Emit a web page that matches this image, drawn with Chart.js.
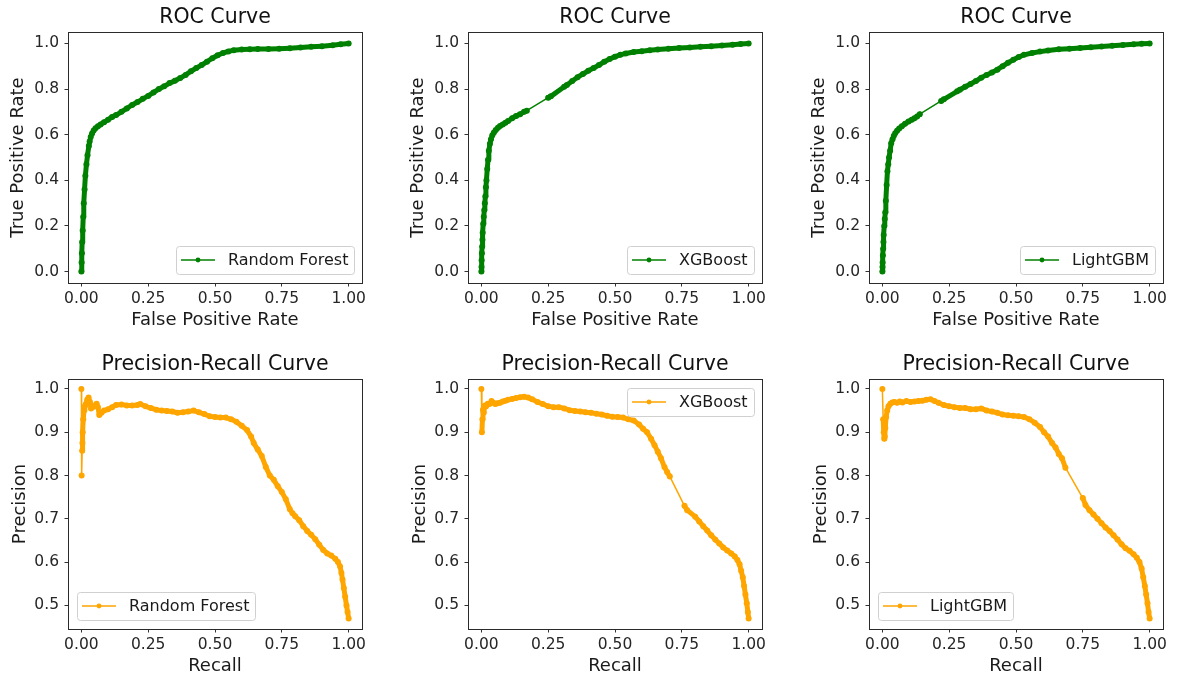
<!DOCTYPE html>
<html>
<head>
<meta charset="utf-8">
<title>ROC and Precision-Recall curves</title>
<script src="https://cdn.jsdelivr.net/npm/chart.js@4.4.1/dist/chart.umd.min.js"></script>
<style>
  html, body { margin: 0; padding: 0; background: #fff; }
  body { position: relative; width: 1179px; height: 679px; overflow: hidden; }
  canvas { position: absolute; }
</style>
</head>
<body>
<script>
const models = ["Random Forest", "XGBoost", "LightGBM"];
const xTicks = [0, 0.25, 0.5, 0.75, 1.0];
const rocYTicks = [0, 0.2, 0.4, 0.6, 0.8, 1.0];
const prYTicks = [0.5, 0.6, 0.7, 0.8, 0.9, 1.0];

// ROC - Random Forest
const rfFpr = [
  0, 0.001, 0.002, 0.003, 0.005, 0.007, 0.009, 0.012, 0.015, 0.019,
  0.023, 0.028, 0.031, 0.035, 0.04, 0.046, 0.053, 0.062, 0.072, 0.085,
  0.1, 0.115, 0.13, 0.15, 0.17, 0.19, 0.21, 0.23, 0.25, 0.27,
  0.29, 0.31, 0.33, 0.35, 0.37, 0.39, 0.41, 0.43, 0.45, 0.47,
  0.49, 0.51, 0.53, 0.55, 0.57, 0.6, 0.63, 0.66, 0.7, 0.74,
  0.78, 0.82, 0.86, 0.9, 0.94, 0.97, 1.0];
const rfTpr = [
  0, 0.04, 0.08, 0.13, 0.18, 0.24, 0.3, 0.36, 0.42, 0.47,
  0.51, 0.55, 0.57, 0.59, 0.605, 0.618, 0.628, 0.637, 0.645, 0.655,
  0.665, 0.678, 0.686, 0.7, 0.715, 0.73, 0.743, 0.757, 0.77, 0.785,
  0.8, 0.812, 0.826, 0.836, 0.848, 0.862, 0.878, 0.892, 0.905, 0.92,
  0.935, 0.948, 0.958, 0.965, 0.97, 0.973, 0.974, 0.975, 0.976, 0.977,
  0.979, 0.982, 0.985, 0.988, 0.992, 0.996, 1.0];

// ROC - XGBoost
const xgbFpr = [
  0, 0.0005, 0.001, 0.002, 0.003, 0.004, 0.005, 0.007, 0.009, 0.011,
  0.013, 0.015, 0.017, 0.019, 0.022, 0.025, 0.028, 0.032, 0.036, 0.041,
  0.047, 0.054, 0.062, 0.07, 0.08, 0.09, 0.1, 0.115, 0.13, 0.145,
  0.16, 0.17, 0.25, 0.26, 0.31, 0.32, 0.34, 0.36, 0.38, 0.4,
  0.42, 0.44, 0.46, 0.48, 0.5, 0.52, 0.54, 0.57, 0.6, 0.63,
  0.66, 0.7, 0.74, 0.78, 0.82, 0.86, 0.9, 0.94, 0.97, 1.0];
const xgbTpr = [
  0, 0.02, 0.05, 0.08, 0.11, 0.14, 0.17, 0.21, 0.24, 0.27,
  0.3, 0.33, 0.37, 0.4, 0.45, 0.49, 0.53, 0.56, 0.58, 0.597,
  0.61, 0.62, 0.63, 0.638, 0.645, 0.652, 0.66, 0.672, 0.682, 0.69,
  0.7, 0.705, 0.762, 0.768, 0.81, 0.818, 0.835, 0.852, 0.866, 0.88,
  0.892, 0.905, 0.92, 0.932, 0.942, 0.95, 0.956, 0.962, 0.966, 0.97,
  0.973, 0.977, 0.98, 0.982, 0.985, 0.988, 0.991, 0.994, 0.997, 1.0];

// ROC - LightGBM
const lgbFpr = [
  0, 0.0005, 0.001, 0.002, 0.003, 0.004, 0.005, 0.007, 0.009, 0.011,
  0.013, 0.016, 0.019, 0.022, 0.025, 0.029, 0.033, 0.038, 0.043, 0.048,
  0.055, 0.063, 0.073, 0.085, 0.098, 0.11, 0.12, 0.13, 0.14, 0.22,
  0.23, 0.28, 0.29, 0.31, 0.33, 0.35, 0.37, 0.39, 0.41, 0.43,
  0.45, 0.47, 0.49, 0.51, 0.53, 0.56, 0.59, 0.62, 0.66, 0.7,
  0.74, 0.78, 0.82, 0.86, 0.9, 0.94, 0.97, 1.0];
const lgbTpr = [
  0, 0.02, 0.04, 0.07, 0.1, 0.13, 0.16, 0.2, 0.23, 0.26,
  0.31, 0.38, 0.44, 0.47, 0.5, 0.53, 0.562, 0.58, 0.595, 0.606,
  0.617, 0.627, 0.637, 0.648, 0.658, 0.665, 0.672, 0.68, 0.69, 0.748,
  0.755, 0.79, 0.797, 0.81, 0.822, 0.835, 0.85, 0.862, 0.873, 0.885,
  0.9, 0.915, 0.928, 0.94, 0.95, 0.958, 0.964, 0.969, 0.974, 0.977,
  0.98, 0.983, 0.986, 0.99, 0.993, 0.996, 0.998, 1.0];

// Precision-Recall - Random Forest
const rfRecall = [
  0, 0.001, 0.003, 0.004, 0.005, 0.007, 0.01, 0.013, 0.017, 0.022,
  0.027, 0.032, 0.036, 0.042, 0.05, 0.057, 0.062, 0.067, 0.075, 0.085,
  0.1, 0.115, 0.13, 0.15, 0.17, 0.19, 0.21, 0.22, 0.24, 0.26,
  0.28, 0.3, 0.32, 0.34, 0.36, 0.38, 0.4, 0.42, 0.44, 0.46,
  0.48, 0.5, 0.52, 0.54, 0.56, 0.58, 0.6, 0.62, 0.635, 0.645,
  0.66, 0.675, 0.69, 0.705, 0.72, 0.735, 0.75, 0.765, 0.78, 0.79,
  0.8, 0.815, 0.83, 0.845, 0.86, 0.875, 0.89, 0.905, 0.92, 0.935,
  0.95, 0.96, 0.968, 0.973, 0.977, 0.982, 0.987, 0.992, 0.996, 1.0];
const rfPrecision = [
  1.0, 0.8, 0.857, 0.875, 0.9, 0.93, 0.95, 0.96, 0.965, 0.975,
  0.98, 0.97, 0.955, 0.958, 0.962, 0.966, 0.958, 0.94, 0.945, 0.95,
  0.953, 0.958, 0.963, 0.964, 0.962, 0.962, 0.963, 0.965, 0.96, 0.956,
  0.952, 0.95, 0.949, 0.948, 0.945, 0.946, 0.948, 0.95, 0.946, 0.942,
  0.937, 0.935, 0.934, 0.934, 0.93, 0.924, 0.915, 0.905, 0.89, 0.875,
  0.86, 0.845, 0.82, 0.8, 0.79, 0.775, 0.762, 0.745, 0.722, 0.713,
  0.706, 0.697, 0.683, 0.672, 0.663, 0.653, 0.64, 0.628, 0.62, 0.615,
  0.608, 0.6, 0.59, 0.575, 0.56, 0.54, 0.52, 0.5, 0.485, 0.47];

// Precision-Recall - XGBoost
const xgbRecall = [
  0, 0.002, 0.004, 0.006, 0.009, 0.013, 0.018, 0.024, 0.03, 0.038,
  0.045, 0.052, 0.06, 0.07, 0.08, 0.09, 0.1, 0.115, 0.13, 0.145,
  0.16, 0.175, 0.19, 0.21, 0.23, 0.25, 0.27, 0.29, 0.31, 0.33,
  0.35, 0.37, 0.39, 0.41, 0.43, 0.45, 0.47, 0.49, 0.51, 0.53,
  0.55, 0.57, 0.59, 0.605, 0.62, 0.635, 0.648, 0.66, 0.672, 0.685,
  0.695, 0.705, 0.76, 0.77, 0.8, 0.815, 0.83, 0.845, 0.86, 0.875,
  0.89, 0.905, 0.92, 0.935, 0.948, 0.958, 0.966, 0.972, 0.978, 0.983,
  0.988, 0.993, 0.997, 1.0];
const xgbPrecision = [
  1.0, 0.9, 0.93, 0.952, 0.945, 0.962, 0.96, 0.966, 0.965, 0.972,
  0.968, 0.965, 0.967, 0.968, 0.971, 0.973, 0.975, 0.977, 0.979, 0.981,
  0.982, 0.98, 0.976, 0.97, 0.965, 0.96, 0.958, 0.958, 0.955, 0.951,
  0.949, 0.948, 0.946, 0.945, 0.943, 0.941, 0.938, 0.936, 0.935, 0.934,
  0.93, 0.927, 0.918, 0.908, 0.9, 0.885, 0.87, 0.855, 0.84, 0.82,
  0.808, 0.798, 0.73, 0.72, 0.705, 0.694, 0.683, 0.673, 0.662, 0.652,
  0.643, 0.634, 0.627, 0.62, 0.613, 0.605, 0.595, 0.58, 0.565, 0.545,
  0.525, 0.505, 0.485, 0.47];

// Precision-Recall - LightGBM
const lgbRecall = [
  0, 0.003, 0.005, 0.007, 0.009, 0.011, 0.014, 0.018, 0.023, 0.03,
  0.037, 0.045, 0.055, 0.065, 0.075, 0.09, 0.105, 0.12, 0.135, 0.15,
  0.165, 0.18, 0.195, 0.21, 0.23, 0.25, 0.27, 0.29, 0.31, 0.33,
  0.35, 0.37, 0.39, 0.41, 0.43, 0.45, 0.47, 0.49, 0.51, 0.53,
  0.55, 0.57, 0.59, 0.605, 0.62, 0.635, 0.648, 0.66, 0.672, 0.685,
  0.75, 0.76, 0.775, 0.79, 0.805, 0.82, 0.835, 0.85, 0.865, 0.88,
  0.895, 0.91, 0.925, 0.94, 0.952, 0.962, 0.97, 0.976, 0.982, 0.987,
  0.992, 0.996, 1.0];
const lgbPrecision = [
  1.0, 0.93, 0.9, 0.885, 0.89, 0.91, 0.935, 0.95, 0.96, 0.966,
  0.969, 0.97, 0.968, 0.971, 0.969, 0.972, 0.97, 0.971, 0.972, 0.973,
  0.975, 0.976, 0.972, 0.968, 0.963, 0.96, 0.958, 0.956, 0.956, 0.953,
  0.953, 0.955, 0.95, 0.948, 0.945, 0.941, 0.939, 0.938, 0.937, 0.935,
  0.93, 0.922, 0.912, 0.9, 0.89, 0.875, 0.865, 0.85, 0.84, 0.818,
  0.748, 0.732, 0.72, 0.71, 0.7, 0.69, 0.68, 0.672, 0.662, 0.652,
  0.641, 0.632, 0.626, 0.618, 0.61, 0.6, 0.585, 0.565, 0.545, 0.525,
  0.505, 0.485, 0.47];

const FONT = '"DejaVu Sans", sans-serif';
const ROC_COLOR = "#008000";
const PR_COLOR = "#ffa500";

const panels = [
  { title: "ROC Curve", label: models[0], x: rfFpr, y: rfTpr, roc: true, loc: "lower right" },
  { title: "ROC Curve", label: models[1], x: xgbFpr, y: xgbTpr, roc: true, loc: "lower right" },
  { title: "ROC Curve", label: models[2], x: lgbFpr, y: lgbTpr, roc: true, loc: "lower right" },
  { title: "Precision-Recall Curve", label: models[0], x: rfRecall, y: rfPrecision, roc: false, loc: "lower left" },
  { title: "Precision-Recall Curve", label: models[1], x: xgbRecall, y: xgbPrecision, roc: false, loc: "upper right" },
  { title: "Precision-Recall Curve", label: models[2], x: lgbRecall, y: lgbPrecision, roc: false, loc: "lower left" },
];

// layout of the 2x3 grid (plot-area left edges, row placement)
const colLeft = [68, 468, 869];
const rows = [
  { top: 0, height: 340, yTitlePad: 7.4 },
  { top: 347, height: 339, yTitlePad: 9.7 },
];
const Y_AXIS_W = 68, X_AXIS_H = 57, AREA_W = 294, RIGHT_PAD = 12;

// densely sampled stretches look like a thick band of dots, long jumps stay thin
function segWidth(ctx) {
  const dx = ctx.p1.x - ctx.p0.x, dy = ctx.p1.y - ctx.p0.y;
  return Math.hypot(dx, dy) > 18 ? 1.5 : 5;
}

// spines + matplotlib style legend inside the axes
const framePlugin = {
  id: "frameAndLegend",
  afterDatasetsDraw(chart, args, opts) {
    const { ctx, chartArea: a } = chart;
    const l = Math.round(a.left), t = Math.round(a.top);
    const r = Math.round(a.right), b = Math.round(a.bottom);
    ctx.save();
    ctx.strokeStyle = "#2b2b2b";
    ctx.lineWidth = 1;
    ctx.strokeRect(l + 0.5, t + 0.5, r - l, b - t);

    const ds = chart.data.datasets[0];
    ctx.font = "16px " + FONT;
    const tw = ctx.measureText(ds.label).width;
    const w = Math.round(5 + 34 + 13 + tw + 6), h = 28;
    const x = opts.loc.includes("right") ? r - 8 - w : l + 9;
    const y = opts.loc.includes("lower") ? b - 9 - h : t + 9;
    ctx.beginPath();
    if (ctx.roundRect) ctx.roundRect(x + 0.5, y + 0.5, w, h, 3);
    else ctx.rect(x + 0.5, y + 0.5, w, h);
    ctx.fillStyle = "rgba(255,255,255,0.8)";
    ctx.fill();
    ctx.strokeStyle = "#d0d0d0";
    ctx.stroke();

    const cy = y + h / 2;
    ctx.strokeStyle = ds.borderColor;
    ctx.lineWidth = 1.5;
    ctx.beginPath();
    ctx.moveTo(x + 5, cy);
    ctx.lineTo(x + 39, cy);
    ctx.stroke();
    ctx.fillStyle = ds.borderColor;
    ctx.beginPath();
    ctx.arc(x + 22, cy, 2.4, 0, Math.PI * 2);
    ctx.fill();

    ctx.fillStyle = "#1a1a1a";
    ctx.textBaseline = "middle";
    ctx.textAlign = "left";
    ctx.fillText(ds.label, x + 52, cy + 1);
    ctx.restore();
  },
};

function makeChart(p, i) {
  const col = i % 3;
  const row = rows[Math.floor(i / 3)];
  const canvas = document.createElement("canvas");
  canvas.width = Y_AXIS_W + AREA_W + RIGHT_PAD;
  canvas.height = row.height;
  canvas.style.left = colLeft[col] - Y_AXIS_W + "px";
  canvas.style.top = row.top + "px";
  document.body.appendChild(canvas);

  const color = p.roc ? ROC_COLOR : PR_COLOR;
  const yTicks = p.roc ? rocYTicks : prYTicks;
  const n = Math.min(p.x.length, p.y.length);
  const points = p.x.slice(0, n).map((x, k) => ({ x, y: p.y[k] }));

  const tickGrid = {
    display: true,
    drawOnChartArea: false,
    drawTicks: true,
    tickLength: 3.5,
    tickColor: "#333",
    tickWidth: 1,
  };

  return new Chart(canvas, {
    type: "scatter",
    data: {
      datasets: [
        {
          label: p.label,
          data: points,
          showLine: true,
          borderColor: color,
          backgroundColor: color,
          borderWidth: 1.5,
          borderCapStyle: "round",
          borderJoinStyle: "round",
          segment: { borderWidth: segWidth },
          pointRadius: 3,
          pointBorderWidth: 0,
          pointBackgroundColor: color,
        },
      ],
    },
    options: {
      responsive: false,
      animation: false,
      devicePixelRatio: 1,
      layout: { padding: { left: 0, right: RIGHT_PAD, top: 0, bottom: 0 } },
      plugins: {
        legend: { display: false },
        tooltip: { enabled: false },
        title: {
          display: true,
          text: p.title,
          fullSize: false,
          color: "#111",
          font: { family: FONT, size: 20.5, weight: "normal" },
          padding: { top: 5.2, bottom: 2.2 },
        },
        frameAndLegend: { loc: p.loc },
      },
      scales: {
        x: {
          type: "linear",
          min: -0.05,
          max: 1.05,
          afterBuildTicks: (s) => { s.ticks = xTicks.map((value) => ({ value })); },
          afterFit: (s) => { s.height = X_AXIS_H; },
          ticks: {
            padding: 3,
            color: "#262626",
            font: { family: FONT, size: 15.5 },
            maxRotation: 0,
            callback: (v) => Number(v).toFixed(2),
          },
          grid: tickGrid,
          border: { display: false },
          title: {
            display: true,
            text: p.roc ? "False Positive Rate" : "Recall",
            color: "#1a1a1a",
            font: { family: FONT, size: 18 },
            padding: { top: 0, bottom: 9.2 },
          },
        },
        y: {
          type: "linear",
          min: p.roc ? -0.05 : 0.4455,
          max: p.roc ? 1.05 : 1.023,
          afterBuildTicks: (s) => { s.ticks = yTicks.map((value) => ({ value })); },
          afterFit: (s) => { s.width = Y_AXIS_W; },
          ticks: {
            padding: 5.5,
            color: "#262626",
            font: { family: FONT, size: 15.5 },
            callback: (v) => Number(v).toFixed(1),
          },
          grid: tickGrid,
          border: { display: false },
          title: {
            display: true,
            text: p.roc ? "True Positive Rate" : "Precision",
            color: "#1a1a1a",
            font: { family: FONT, size: 18 },
            padding: { top: row.yTitlePad, bottom: 0 },
          },
        },
      },
    },
    plugins: [framePlugin],
  });
}

panels.forEach(makeChart);
</script>
</body>
</html>
